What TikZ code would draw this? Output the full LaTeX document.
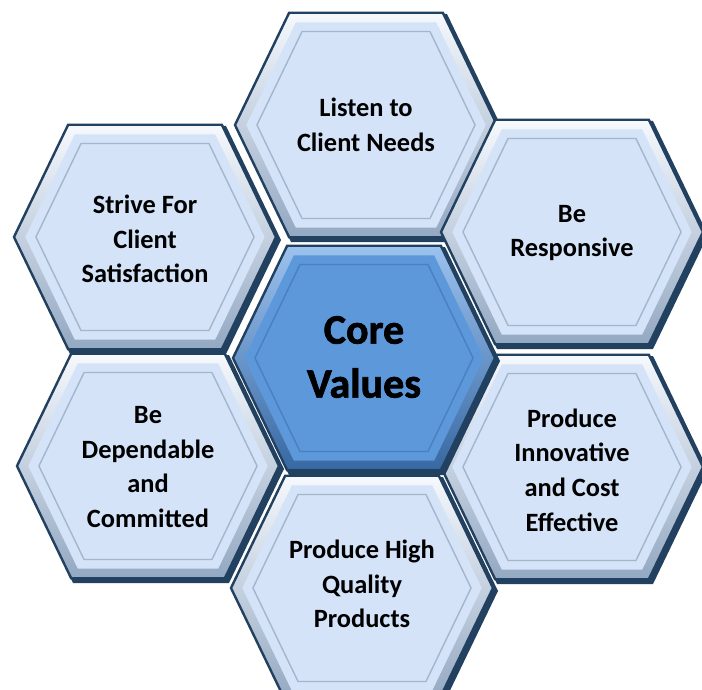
\documentclass[tikz,border=0pt]{standalone}
\usepackage{fontspec}
\setmainfont{Carlito}
\usepackage{tikz}
\usepackage{xcolor}

\definecolor{facelight}{HTML}{D4E3F7}
\definecolor{bevellight}{HTML}{F6F9FD}
\definecolor{beveldark}{HTML}{93A8C2}
\definecolor{hexnavy}{HTML}{22405F}
\definecolor{innerline}{HTML}{A3B6CC}
\definecolor{corefill}{HTML}{5D98DB}
\definecolor{corebevel}{HTML}{9CC2EE}
\definecolor{coredark}{HTML}{3868A2}
\definecolor{coreline}{HTML}{4A80C2}

% hexagon outline round a centre, scaled
\newcommand{\hexat}[2]{[shift={(#1)},scale=#2] (-133,0) -- (-78,-114) -- (78,-114) -- (133,0) -- (78,114) -- (-78,114) -- cycle}

% one bevelled cell: centre, face, bevel top, bevel bottom, inner line
\newcommand{\honeycell}[5]{%
  \fill[hexnavy, xshift=1.5pt, yshift=-1.5pt] \hexat{#1}{1.0};
  \shade[top color=#3, bottom color=#4, draw=hexnavy, line width=1.2pt] \hexat{#1}{0.985};
  \fill[#2] \hexat{#1}{0.9};
  \draw[#5, line width=0.7pt] \hexat{#1}{0.82};
}

\tikzset{
  celltext/.style={align=center, font=\bfseries\fontsize{13.2}{17.3}\selectfont, text=black},
  coretext/.style={align=center, font=\bfseries\fontsize{21}{27}\selectfont\addfontfeature{FakeBold=1.6}, text=black}
}

\begin{document}
\begin{tikzpicture}[x=0.5pt, y=-0.5pt]
\useasboundingbox (0,0) rectangle (702,690);
\fill[white] (0,0) rectangle (702,690);

% outer ring
\foreach \cx/\cy in {366/125, 145/237, 572/232, 148/466, 572/467, 362/588} {
  \honeycell{\cx,\cy}{facelight}{bevellight}{beveldark}{innerline}
}
% centre cell
\honeycell{364,358}{corefill}{corebevel}{coredark}{coreline}

\node[celltext] (listen) at (366,125) {Listen to\\Client Needs};
\node[celltext] (strive) at (145,239) {Strive For\\Client\\Satisfaction};
\node[celltext] (responsive) at (572,233) {Be\\Responsive};
\node[celltext] (dependable) at (148,467) {Be\\Dependable\\and\\Committed};
\node[celltext] (innovative) at (572,470) {Produce\\Innovative\\and Cost\\Effective};
\node[celltext] (quality) at (362,584) {Produce High\\Quality\\Products};
\node[coretext] (core) at (364,357) {Core\\Values};
\end{tikzpicture}
\end{document}
